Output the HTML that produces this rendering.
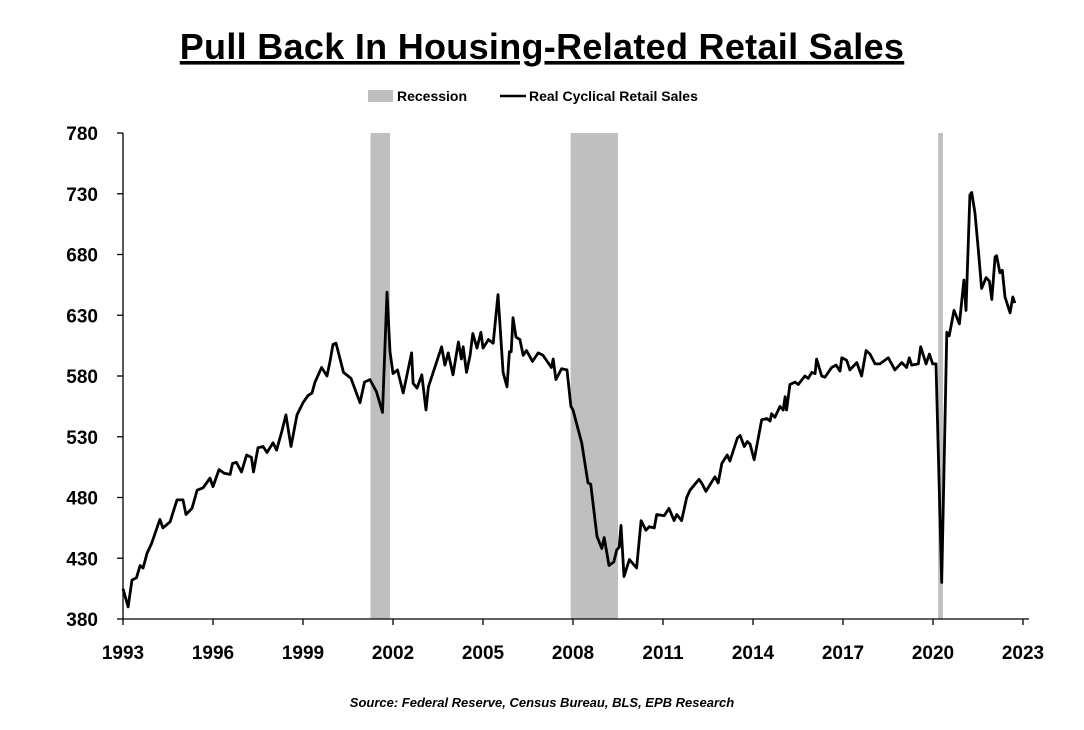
<!DOCTYPE html>
<html><head><meta charset="utf-8">
<style>
body{margin:0;background:#fff;}
svg text{font-family:"Liberation Sans",Arial,sans-serif;font-weight:bold;fill:#000;}
</style></head>
<body>
<svg id="chart" width="1084" height="725" viewBox="0 0 1084 725" xmlns="http://www.w3.org/2000/svg">
<text x="542" y="59" text-anchor="middle" font-size="36" letter-spacing="0.3" text-decoration="underline">Pull Back In Housing-Related Retail Sales</text>
<g>
<rect x="368" y="90" width="25" height="12" fill="#bfbfbf"/>
<text x="397" y="101" font-size="14">Recession</text>
<line x1="500" y1="96" x2="526" y2="96" stroke="#000" stroke-width="2.5"/>
<text x="529" y="101" font-size="14">Real Cyclical Retail Sales</text>
</g>
<g id="recessions"></g>
<g id="axes"></g>
<path id="line" fill="none" stroke="#000" stroke-width="2.8" stroke-linejoin="round"/>
<text x="542" y="707" text-anchor="middle" font-size="13" font-style="italic">Source: Federal Reserve, Census Bureau, BLS, EPB Research</text>
</svg>
<script>
const yTicks=[380,430,480,530,580,630,680,730,780];
const xTicks=[1993,1996,1999,2002,2005,2008,2011,2014,2017,2020,2023];
const recStart=[2001.25,2007.92,2020.17];
const recEnd=[2001.9,2009.5,2020.33];
const years=[1993.0,1993.17,1993.3,1993.45,1993.57,1993.67,1993.8,1993.95,1994.23,1994.33,1994.57,1994.8,1995.0,1995.1,1995.3,1995.47,1995.67,1995.9,1996.0,1996.2,1996.37,1996.57,1996.65,1996.78,1996.95,1997.12,1997.28,1997.35,1997.5,1997.67,1997.8,1998.0,1998.12,1998.3,1998.43,1998.6,1998.8,1999.0,1999.17,1999.3,1999.4,1999.62,1999.8,1999.9,2000.0,2000.1,2000.35,2000.6,2000.9,2001.05,2001.23,2001.45,2001.65,2001.8,2001.9,2002.0,2002.15,2002.34,2002.62,2002.67,2002.8,2002.96,2003.1,2003.18,2003.46,2003.62,2003.73,2003.84,2004.0,2004.18,2004.28,2004.34,2004.45,2004.57,2004.66,2004.8,2004.93,2005.0,2005.18,2005.34,2005.5,2005.67,2005.8,2005.88,2005.94,2006.0,2006.1,2006.23,2006.34,2006.45,2006.65,2006.84,2007.0,2007.28,2007.34,2007.43,2007.62,2007.8,2007.93,2008.0,2008.29,2008.5,2008.59,2008.8,2008.96,2009.04,2009.2,2009.36,2009.46,2009.54,2009.6,2009.7,2009.88,2010.12,2010.27,2010.43,2010.54,2010.71,2010.79,2011.04,2011.2,2011.37,2011.46,2011.62,2011.79,2011.9,2012.2,2012.31,2012.43,2012.73,2012.84,2012.96,2013.14,2013.23,2013.48,2013.57,2013.71,2013.81,2013.9,2014.04,2014.29,2014.46,2014.57,2014.62,2014.73,2014.9,2015.01,2015.07,2015.12,2015.23,2015.4,2015.51,2015.73,2015.84,2015.96,2016.07,2016.12,2016.29,2016.4,2016.62,2016.77,2016.9,2016.96,2017.12,2017.23,2017.46,2017.62,2017.77,2017.9,2018.07,2018.23,2018.51,2018.73,2018.96,2019.12,2019.21,2019.29,2019.51,2019.59,2019.77,2019.88,2019.99,2020.1,2020.29,2020.46,2020.54,2020.7,2020.88,2021.03,2021.1,2021.23,2021.29,2021.4,2021.51,2021.62,2021.77,2021.88,2021.96,2022.07,2022.12,2022.23,2022.31,2022.4,2022.57,2022.66,2022.73];
const values=[405,390,412,414,424,422,434,442,462,455,460,478,478,466,471,486,488,496,489,503,500,499,508,509,501,515,513,501,521,522,517,525,519,535,548,522,548,558,564,566,575,587,580,592,606,607,583,578,558,575,577,567,550,649,600,582,585,566,599,574,570,581,552,571,592,604,589,599,581,608,594,604,583,597,615,603,616,603,610,607,647,583,571,600,600,628,612,610,597,601,592,599,597,587,594,577,586,585,555,552,525,492,491,448,438,447,424,427,437,439,457,415,429,422,461,453,456,455,466,465,471,461,466,461,480,486,495,491,485,497,492,508,515,510,529,531,522,526,524,511,544,545,543,549,546,555,552,563,552,573,575,573,580,578,583,582,594,580,579,587,589,584,595,593,585,591,580,601,598,590,590,595,585,591,587,595,589,590,604,590,598,590,590,410,616,613,634,623,659,634,729,731,714,684,652,661,658,643,678,679,665,667,645,632,645,640];
const X0=123,X1=1023,Y0=619,Y1=133;
const xs=y=>X0+(y-1993)*(X1-X0)/30;
const ys=v=>Y0-(v-380)*(Y0-Y1)/400;
const NS="http://www.w3.org/2000/svg";
const rg=document.getElementById('recessions');
for(let i=0;i<recStart.length;i++){
  const r=document.createElementNS(NS,'rect');
  r.setAttribute('x',xs(recStart[i]));r.setAttribute('y',Y1);
  r.setAttribute('width',xs(recEnd[i])-xs(recStart[i]));r.setAttribute('height',Y0-Y1);
  r.setAttribute('fill','#bfbfbf');
  
  
  rg.appendChild(r);
}
const ag=document.getElementById('axes');
function ln(x1,y1,x2,y2,name){const l=document.createElementNS(NS,'line');l.setAttribute('x1',x1);l.setAttribute('y1',y1);l.setAttribute('x2',x2);l.setAttribute('y2',y2);l.setAttribute('stroke','#000');l.setAttribute('stroke-width','1.3');


ag.appendChild(l);}
ln(X0,Y1,X0,Y0,'y-axis');ln(X0,Y0,X1+6,Y0,'x-axis');
yTicks.forEach(v=>{ln(X0-6,ys(v),X0,ys(v),'y-tick');
  const t=document.createElementNS(NS,'text');t.setAttribute('x',98);t.setAttribute('y',ys(v)+7);t.setAttribute('text-anchor','end');t.setAttribute('font-size','19');t.textContent=v;
  
  
  ag.appendChild(t);});
xTicks.forEach(v=>{ln(xs(v),Y0,xs(v),Y0+6,'x-tick');
  const t=document.createElementNS(NS,'text');t.setAttribute('x',xs(v));t.setAttribute('y',659);t.setAttribute('text-anchor','middle');t.setAttribute('font-size','19');t.textContent=v;
  
  
  ag.appendChild(t);});
document.getElementById('line').setAttribute('d',years.map((y,i)=>(i?'L':'M')+xs(y).toFixed(1)+','+ys(values[i]).toFixed(1)).join(''));
</script>
</body></html>
